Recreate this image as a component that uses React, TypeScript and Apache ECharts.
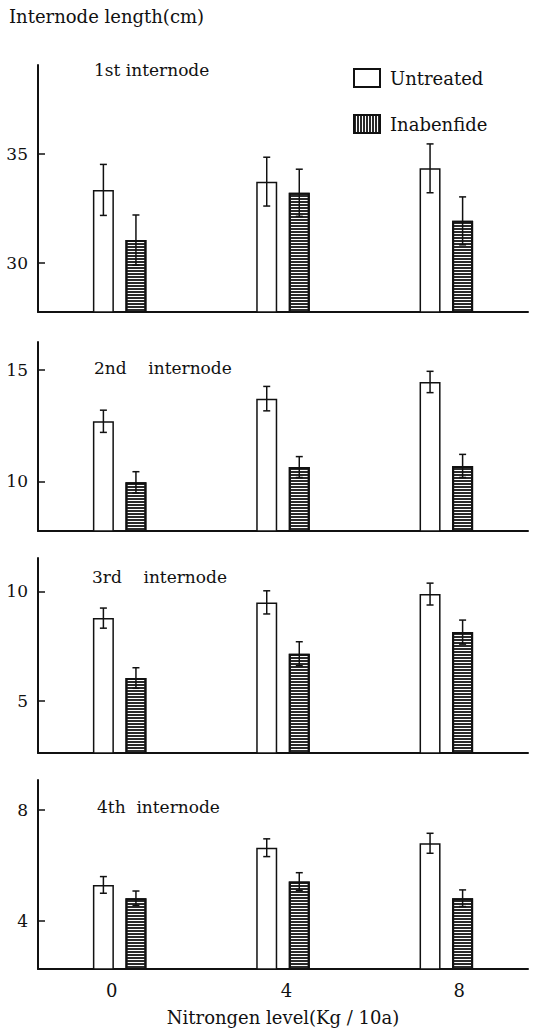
import React, { useEffect, useRef } from 'react';
import * as echarts from 'echarts';

// ---- data ----
const categories = ['0', '4', '8'];
const seriesNames = ['Untreated', 'Inabenfide'];
const panelNames = ['1st internode', '2nd    internode', '3rd    internode', '4th  internode'];

const untreated1 = [33.35, 33.73, 34.34];
const untreatedErr1 = [1.17, 1.12, 1.12];
const inabenfide1 = [31.05, 33.22, 31.93];
const inabenfideErr1 = [1.15, 1.08, 1.1];

const untreated2 = [12.7, 13.72, 14.47];
const untreatedErr2 = [0.5, 0.55, 0.48];
const inabenfide2 = [9.95, 10.64, 10.69];
const inabenfideErr2 = [0.48, 0.47, 0.52];

const untreated3 = [8.78, 9.5, 9.88];
const untreatedErr3 = [0.46, 0.53, 0.5];
const inabenfide3 = [6.04, 7.15, 8.14];
const inabenfideErr3 = [0.47, 0.55, 0.55];

const untreated4 = [5.3, 6.64, 6.8];
const untreatedErr4 = [0.3, 0.32, 0.36];
const inabenfide4 = [4.82, 5.42, 4.82];
const inabenfideErr4 = [0.26, 0.32, 0.3];

const yMins = [27.75, 7.76, 2.61, 2.27];
const yMaxs = [39.08, 16.27, 11.53, 9.08];
const yTickValues = [[30, 35], [10, 15], [5, 10], [4, 8]];

const yTitle = 'Internode length(cm)';
const xTitle = 'Nitrongen level(Kg / 10a)';

// ---- layout / style ----
const FONT = 'DejaVu Serif';
const INK = '#111';
const gridTops = [65, 342, 558, 780];
const gridHeights = [247, 189, 195, 189];
const GRID_LEFT = 38;
const GRID_WIDTH = 490;
const BAR_WIDTH = 21;
const BAR_GAP = 0.55;
const panelLabelPos = [[94, 70], [94, 368], [92, 577], [97, 807]];

const untreatedAll = [untreated1, untreated2, untreated3, untreated4];
const untreatedErrAll = [untreatedErr1, untreatedErr2, untreatedErr3, untreatedErr4];
const inabAll = [inabenfide1, inabenfide2, inabenfide3, inabenfide4];
const inabErrAll = [inabenfideErr1, inabenfideErr2, inabenfideErr3, inabenfideErr4];

export default function App() {
  const ref = useRef<HTMLDivElement>(null);
  useEffect(() => {
    document.body.style.margin = '0';
    const chart = echarts.init(ref.current!, null, { renderer: 'svg' });
    const grids: any[] = [];
    const xAxes: any[] = [];
    const yAxes: any[] = [];
    const series: any[] = [];
    const offset = (BAR_WIDTH + BAR_WIDTH * BAR_GAP) / 2;

    for (let i = 0; i < 4; i++) {
      grids.push({ left: GRID_LEFT, top: gridTops[i], width: GRID_WIDTH, height: gridHeights[i] });
      xAxes.push({
        type: 'category',
        gridIndex: i,
        data: categories,
        axisLine: { lineStyle: { color: INK, width: 2 } },
        axisTick: { show: false },
        axisLabel: i === 3
          ? {
              show: true,
              margin: 12,
              color: INK,
              fontFamily: FONT,
              fontSize: 18,
              formatter: (v: string, idx: number) => `{c${idx}|${v}}`,
              rich: {
                c0: { fontFamily: FONT, fontSize: 18, color: INK, padding: [0, 16, 0, 0] },
                c1: { fontFamily: FONT, fontSize: 18, color: INK, padding: [0, 0, 0, 7] },
                c2: { fontFamily: FONT, fontSize: 18, color: INK, padding: [0, 0, 0, 26] },
              },
            }
          : { show: false },
        splitLine: { show: false },
      });
      yAxes.push({
        type: 'value',
        gridIndex: i,
        min: yMins[i],
        max: yMaxs[i],
        axisLine: { show: true, lineStyle: { color: INK, width: 2 } },
        axisTick: {
          show: true,
          inside: true,
          length: 7,
          customValues: yTickValues[i],
          lineStyle: { color: INK, width: 1.5 },
        },
        axisLabel: {
          show: true,
          customValues: yTickValues[i],
          margin: 10,
          color: INK,
          fontFamily: FONT,
          fontSize: 17,
        },
        splitLine: { show: false },
      });
      series.push({
        type: 'bar',
        name: seriesNames[0],
        xAxisIndex: i,
        yAxisIndex: i,
        data: untreatedAll[i],
        barWidth: BAR_WIDTH,
        barGap: `${BAR_GAP * 100}%`,
        itemStyle: { color: '#fff', borderColor: INK, borderWidth: 1.5 },
      });
      series.push({
        type: 'bar',
        name: seriesNames[1],
        xAxisIndex: i,
        yAxisIndex: i,
        data: inabAll[i],
        barWidth: BAR_WIDTH,
        barGap: `${BAR_GAP * 100}%`,
        itemStyle: {
          color: '#fff',
          borderColor: INK,
          borderWidth: 2,
          decal: {
            symbol: 'rect',
            symbolSize: 1,
            symbolKeepAspect: false,
            dashArrayX: [1, 0],
            dashArrayY: [2, 1],
            rotation: 0,
            color: '#2a2a2a',
          },
        },
      });
      const errData: any[] = [];
      for (let j = 0; j < categories.length; j++) {
        errData.push([j, untreatedAll[i][j] - untreatedErrAll[i][j], untreatedAll[i][j] + untreatedErrAll[i][j], 0]);
        errData.push([j, inabAll[i][j] - inabErrAll[i][j], inabAll[i][j] + inabErrAll[i][j], 1]);
      }
      series.push({
        type: 'custom',
        xAxisIndex: i,
        yAxisIndex: i,
        z: 5,
        data: errData,
        renderItem: (params: any, api: any) => {
          const c = api.value(0);
          const lo = api.coord([c, api.value(1)]);
          const hi = api.coord([c, api.value(2)]);
          const x = lo[0] + (api.value(3) === 0 ? -offset : offset);
          const cap = 3.5;
          const style = { stroke: INK, lineWidth: 1.5 };
          return {
            type: 'group',
            children: [
              { type: 'line', shape: { x1: x, y1: lo[1], x2: x, y2: hi[1] }, style },
              { type: 'line', shape: { x1: x - cap, y1: lo[1], x2: x + cap, y2: lo[1] }, style },
              { type: 'line', shape: { x1: x - cap, y1: hi[1], x2: x + cap, y2: hi[1] }, style },
            ],
          };
        },
      });
    }

    const graphic: any[] = [
      {
        type: 'text',
        x: 9,
        y: 16,
        style: { text: yTitle, fill: INK, font: `18px "${FONT}"`, align: 'left', verticalAlign: 'middle' },
      },
      {
        type: 'text',
        x: 283,
        y: 1017,
        style: { text: xTitle, fill: INK, font: `18px "${FONT}"`, align: 'center', verticalAlign: 'middle' },
      },
    ];
    panelNames.forEach((name, i) => {
      graphic.push({
        type: 'text',
        x: panelLabelPos[i][0],
        y: panelLabelPos[i][1],
        style: { text: name, fill: INK, font: `17px "${FONT}"`, align: 'left', verticalAlign: 'middle' },
      });
    });

    chart.setOption({
      animation: false,
      backgroundColor: '#fff',
      textStyle: { fontFamily: FONT },
      legend: {
        orient: 'vertical',
        left: 348,
        top: 63,
        itemWidth: 26,
        itemHeight: 18,
        itemGap: 26,
        icon: 'rect',
        data: [
          { name: seriesNames[0] },
          {
            name: seriesNames[1],
            itemStyle: {
              color: '#fff',
              borderColor: INK,
              borderWidth: 2,
              decal: {
                symbol: 'rect',
                symbolSize: 1,
                symbolKeepAspect: false,
                dashArrayX: [2, 1],
                dashArrayY: [1, 0],
                rotation: 0,
                color: '#2a2a2a',
              },
            },
          },
        ],
        textStyle: { fontFamily: FONT, fontSize: 18, color: INK, lineHeight: 18, padding: [0, 0, 0, 5] },
      },
      grid: grids,
      xAxis: xAxes,
      yAxis: yAxes,
      series,
      graphic,
    });
    return () => chart.dispose();
  }, []);
  return <div ref={ref} style={{ position: 'absolute', left: 0, top: 0, width: 537, height: 1032 }} />;
}
